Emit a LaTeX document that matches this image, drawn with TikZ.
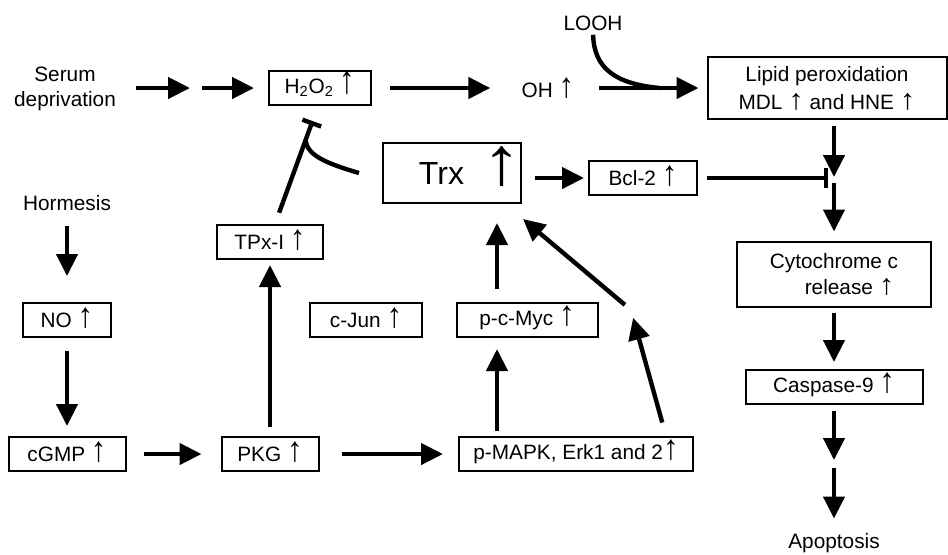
\documentclass[tikz,border=0pt]{standalone}
\usepackage{fontspec}
\setmainfont{Liberation Sans}
\usetikzlibrary{arrows.meta,calc,positioning}
\newcommand{\upar}[1][1.35]{\smash{\scalebox{1.2}[#1]{\fontsize{13}{13}\selectfont ↑}}}

\begin{document}
\begin{tikzpicture}[x=0.5pt,y=-0.5pt,
  font=\fontsize{10.4}{12.5}\selectfont,
  box/.style={draw,line width=1pt,inner sep=0pt,minimum height=17pt},
  lbl/.style={inner sep=0pt,align=center},
  act/.style={line width=2.2pt,-{Triangle[length=11pt,width=10.5pt]}},
  inh/.style={line width=2.2pt,-{Bar[width=10pt]}}]
  \useasboundingbox (0,0) rectangle (948,554);
  % one-line boxes: name/x/y/width/text
  \foreach \n/\x/\y/\w/\t in {h2o2/320/88/51/{H\textsubscript{2}O\textsubscript{2} \upar[1.55]}, bcl/643/178/54/{Bcl-2 \upar}, tpx/270/242/53/{TPx-I \upar}, no/67/320/44/{NO \upar}, cjun/366/320/56/{c-Jun \upar}, myc/527/320/70.5/{p-c-Myc \upar}, cgmp/67/454/58.5/{cGMP \upar}, pkg/270/454/48.5/{PKG \upar}, mapk/576/454/117/{p-MAPK, Erk1 and 2\upar}, casp/834/387/88.5/{Caspase-9 \upar}}
    \node[box,minimum width=\w pt] (\n) at (\x,\y) {\t};
  \node[box,minimum width=119.5pt,minimum height=31pt,align=center,font=\fontsize{10.4}{14}\selectfont] (lipid) at (827,88) {Lipid peroxidation\\MDL \upar[1.1]{} and HNE \upar[1.1]};
  \node[box,minimum width=97pt,minimum height=32.5pt,align=center,font=\fontsize{10.4}{13.2}\selectfont] (cyto) at (834,274) {Cytochrome c\\\hspace*{1.5em}release \upar[1.1]};
  \node[box,minimum width=66.5pt,minimum height=30pt] (trx) at (452,173) {\hspace*{18pt}{\fontsize{16}{16}\selectfont Trx}\hspace{9pt}\smash{\scalebox{1.5}[1.3]{\fontsize{26}{26}\selectfont ↑}}};
  % free labels
  \node[lbl] (serum) at (65,89) {Serum\\deprivation};
  \node[lbl,anchor=base] (horm) at (67,210) {Hormesis};
  \node[lbl] (oh) at (548,90) {OH \upar};
  \node[lbl] (looh) at (593,23) {LOOH};
  \node[lbl,anchor=base] (apop) at (834,548) {Apoptosis};
  \coordinate (m1) at (196,88);
  \coordinate (m2) at (834,464);
  \coordinate (m3) at (631,310);
  \coordinate (blk) at (834,180);
  \coordinate (jn) at (660,88);
  \coordinate (tj) at (305.5,140);
  % top row
  \draw[act,shorten <=10pt,shorten >=3pt] (serum.east |- m1) -- (m1);
  \draw[act,shorten <=3pt,shorten >=7pt] (m1) -- (h2o2);
  \draw[act,shorten <=9pt,shorten >=15.5pt] (h2o2) -- (oh.west |- h2o2);
  \draw[act,shorten <=12pt,shorten >=4pt] (oh.east |- lipid) -- (lipid);
  \draw[line width=2.2pt,shorten <=2pt] (looh.south) .. controls (594,68) and (615,84) .. (jn);
  % right column
  \draw[act,shorten <=3pt,shorten >=1.5pt] (lipid.south -| blk) -- (blk);
  \draw[inh,shorten <=4.5pt,shorten >=3pt] (bcl) -- (bcl -| blk);
  \draw[act,shorten <=1.5pt,shorten >=4.5pt] (blk) -- (cyto);
  \draw[act,shorten <=2.5pt,shorten >=3.5pt] (cyto) -- (casp);
  \draw[act,shorten <=3pt,shorten >=2pt] (casp) -- (m2);
  \draw[act,shorten <=2pt,shorten >=7pt] (m2) -- (apop);
  % left column and bottom row
  \draw[act,shorten <=7.5pt,shorten >=13pt] (horm) -- (no);
  \draw[act,shorten <=6.5pt,shorten >=5pt] (no) -- (cgmp);
  \draw[act,shorten <=8.5pt,shorten >=9.5pt] (cgmp) -- (pkg);
  \draw[act,shorten <=11pt,shorten >=7.5pt] (pkg) -- (mapk);
  \draw[act,shorten <=4.5pt,shorten >=2.5pt] (pkg) -- (tpx);
  \draw[inh,shorten <=6pt,shorten >=8pt] ([xshift=2.5pt]tpx.north) -- ([xshift=-1pt]h2o2.south);
  \draw[line width=2.2pt] ([xshift=-11.5pt]trx.west) .. controls (325,163) and (307,155) .. (tj);
  % into Trx
  \draw[act,shorten <=2.5pt,shorten >=5.5pt] ($(myc.south |- mapk.north)+(-30,0)$) -- ($(myc.south)+(-30,0)$);
  \draw[act,shorten <=6.5pt,shorten >=9.5pt] ($(myc.north)+(-30,0)$) -- ($(myc.north |- trx.south)+(-30,0)$);
  \draw[act,shorten <=7pt,shorten >=4pt] ($(mapk.north)+(90,0)$) -- (m3);
  \draw[act,shorten <=4pt] (m3) -- ($(trx.south east)+(1,15)$);
  \draw[act,shorten <=6.5pt,shorten >=2pt] (trx.east |- bcl) -- (bcl);
\end{tikzpicture}
\end{document}
